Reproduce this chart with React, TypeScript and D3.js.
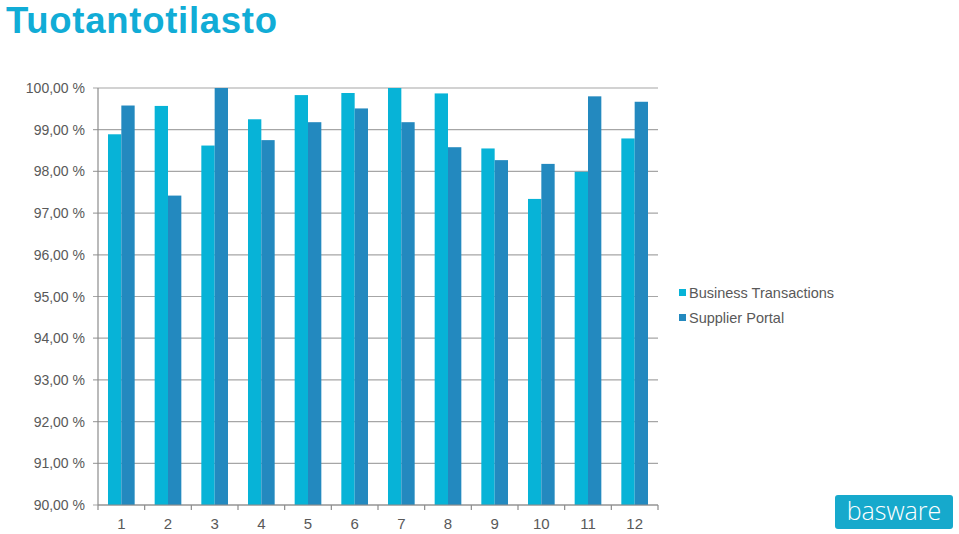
import React from "react";
import * as d3 from "d3";

const categories = ["1", "2", "3", "4", "5", "6", "7", "8", "9", "10", "11", "12"];
const seriesNames = ["Business Transactions", "Supplier Portal"];
const businessTransactions = [98.89, 99.57, 98.62, 99.25, 99.83, 99.88, 100.0, 99.87, 98.55, 97.34, 97.99, 98.79];
const supplierPortal = [99.58, 97.42, 100.0, 98.75, 99.18, 99.51, 99.18, 98.58, 98.27, 98.18, 99.8, 99.67];
const yTicks = [90, 91, 92, 93, 94, 95, 96, 97, 98, 99, 100];
const colors = ["#07b3d7", "#2389bf"];

const W = 959;
const H = 534;
const left = 98;
const right = 658;
const top = 88;
const bottom = 505;
const font = "'Liberation Sans', Arial, sans-serif";

export default function App() {
  const y = d3.scaleLinear().domain([90, 100]).range([bottom, top]);
  const x0 = d3
    .scaleBand<string>()
    .domain(categories)
    .range([left, right])
    .paddingInner(1.5 / 3.5)
    .paddingOuter(0.75 / 3.5);
  const x1 = d3.scaleBand<string>().domain(seriesNames).range([0, x0.bandwidth()]).padding(0);
  const step = x0.step();
  const data = [businessTransactions, supplierPortal];
  const fmt = (v: number) => v.toFixed(2).replace(".", ",") + " %";

  return (
    <svg width={W} height={H} style={{ position: "absolute", left: 0, top: 0, background: "#fff" }}>
      <text x={6} y={33} fill="#11acd6" fontFamily={font} fontWeight="bold" fontSize={36.5} textLength={271}>
        Tuotantotilasto
      </text>
      {yTicks.map((t) => (
        <g key={t}>
          <line x1={left - 5} x2={right} y1={y(t)} y2={y(t)} stroke="#a6a6a6" strokeWidth={1.2} />
          <text x={85} y={y(t) + 5} textAnchor="end" fill="#595959" fontFamily={font} fontSize={14}>
            {fmt(t)}
          </text>
        </g>
      ))}
      {data.map((vals, si) =>
        vals.map((v, i) => (
          <rect
            key={si + "-" + i}
            x={(x0(categories[i]) as number) + (x1(seriesNames[si]) as number)}
            y={y(v)}
            width={x1.bandwidth()}
            height={y(90) - y(v)}
            fill={colors[si]}
          />
        ))
      )}
      <line x1={left} x2={left} y1={top} y2={bottom} stroke="#8c8c8c" strokeWidth={1.2} />
      <line x1={left} x2={right} y1={bottom} y2={bottom} stroke="#8c8c8c" strokeWidth={1.2} />
      {d3.range(categories.length + 1).map((k) => (
        <line
          key={k}
          x1={left + k * step}
          x2={left + k * step}
          y1={bottom}
          y2={bottom + 5}
          stroke="#8c8c8c"
          strokeWidth={1.2}
        />
      ))}
      {categories.map((c) => (
        <text
          key={c}
          x={(x0(c) as number) + x0.bandwidth() / 2}
          y={529}
          textAnchor="middle"
          fill="#595959"
          fontFamily={font}
          fontSize={15}
        >
          {c}
        </text>
      ))}
      {seriesNames.map((s, i) => (
        <g key={s}>
          <rect x={679} y={289 + i * 25} width={7} height={7} fill={colors[i]} />
          <text x={689} y={298 + i * 25} fill="#595959" fontFamily={font} fontSize={14.5}>
            {s}
          </text>
        </g>
      ))}
      <rect x={835} y={495} width={118} height={34} rx={3} fill="#16a9cc" />
      <text
        x={894}
        y={520}
        textAnchor="middle"
        fill="#fff"
        fontFamily="'Open Sans', 'Noto Sans', sans-serif"
        fontWeight={300}
        fontSize={25}
      >
        basware
      </text>
    </svg>
  );
}
